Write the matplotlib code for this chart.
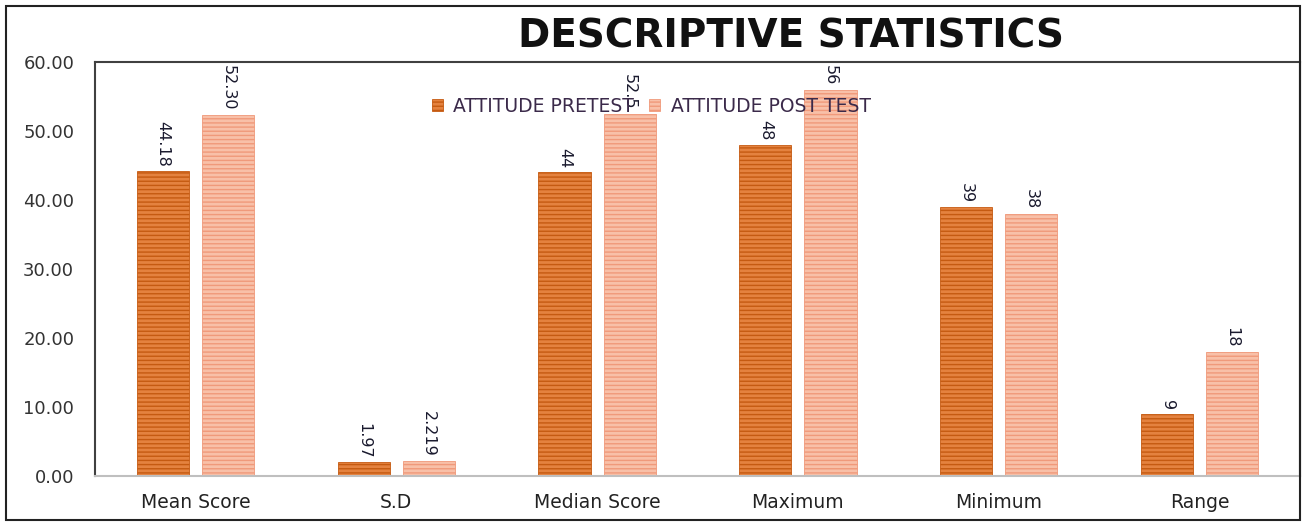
import matplotlib.pyplot as plt
import matplotlib.patches as mpatches
import numpy as np

categories = ["Mean Score", "S.D", "Median Score", "Maximum", "Minimum", "Range"]
pretest = [44.18, 1.97, 44, 48, 39, 9]
posttest = [52.30, 2.219, 52.5, 56, 38, 18]
pre_labels = ["44.18", "1.97", "44", "48", "39", "9"]
post_labels = ["52.30", "2.219", "52.5", "56", "38", "18"]
series_names = ["ATTITUDE PRETEST", "ATTITUDE POST TEST"]

plt.rcParams['hatch.linewidth'] = 1.0
plt.rcParams['font.family'] = ['DejaVu Sans']

fig = plt.figure(figsize=(13.06, 5.23), dpi=100)
ax = fig.add_axes([95 / 1306, 1 - 476 / 523, 1205 / 1306, 414 / 523])

x = np.arange(len(categories))
w = 0.26
off = 0.162
b1 = ax.bar(x - off, pretest, w, color='#E4823F', edgecolor='#C55A11',
            hatch='----', linewidth=0.6, label=series_names[0], zorder=2)
b2 = ax.bar(x + off, posttest, w, color='#F8C0A8', edgecolor='#F0997A',
            hatch='----', linewidth=0.6, label=series_names[1], zorder=2)

for bars, labels in ((b1, pre_labels), (b2, post_labels)):
    for rect, lab in zip(bars, labels):
        ax.annotate(lab, (rect.get_x() + rect.get_width() / 2, rect.get_height()),
                    xytext=(0, 3), textcoords='offset points', rotation=-90,
                    ha='center', va='bottom', fontsize=11.5, color='#1a1a2e', zorder=4)

ax.set_xlim(-0.5, len(categories) - 0.5)
ax.set_ylim(0, 60)
ax.set_yticks(np.arange(0, 61, 10))
ax.set_yticklabels([f"{v:.2f}" for v in np.arange(0, 61, 10)], fontsize=13, color='#333333')
ax.set_xticks(x)
ax.set_xticklabels(categories, fontsize=13.5, color='#222222')
ax.tick_params(axis='y', length=0, pad=15)
ax.tick_params(axis='x', length=0, pad=12)

for s in ('left', 'top', 'right'):
    ax.spines[s].set_color('#404040')
    ax.spines[s].set_linewidth(1.5)
ax.spines['bottom'].set_color('#bfbfbf')
ax.spines['bottom'].set_linewidth(1.5)

leg = ax.legend(loc='center left', bbox_to_anchor=(0.2795, 0.893), ncol=2, frameon=False,
                fontsize=13.5, handlelength=0.6, handleheight=0.6, handletextpad=0.55,
                columnspacing=0.8, borderaxespad=0, borderpad=0)
for t in leg.get_texts():
    t.set_color('#3b2a4a')
leg.set_zorder(5)

fig.text(791 / 1306, 1 - 36 / 523, "DESCRIPTIVE STATISTICS", ha='center', va='center',
         fontsize=28, fontweight='bold', color='#111111')

fig.patches.append(mpatches.Rectangle((6 / 1306, 3 / 523), 1294 / 1306, 514 / 523,
                                      transform=fig.transFigure, fill=False,
                                      edgecolor='#222222', linewidth=1.5))

fig.savefig("out.png", dpi=100)
